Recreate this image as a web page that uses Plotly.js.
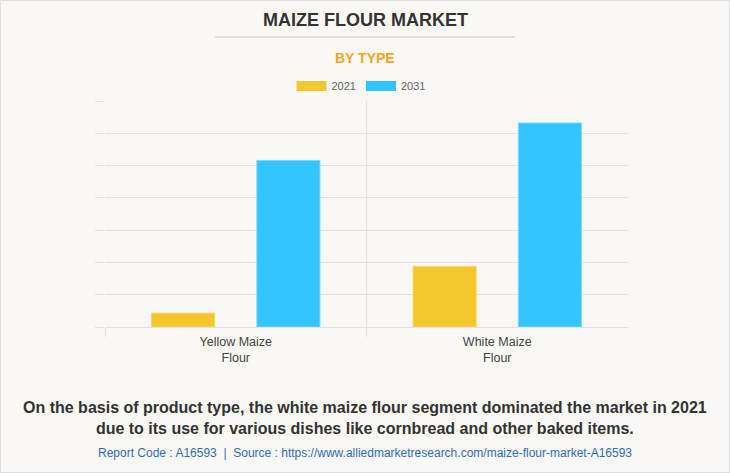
<!DOCTYPE html>
<html>
<head>
<meta charset="utf-8">
<script src="https://cdn.plot.ly/plotly-3.0.1.min.js"></script>
<style>
html,body{margin:0;padding:0;background:#F9F8F4;}
#chart{width:730px;height:473px;}
</style>
</head>
<body>
<div id="chart"></div>
<script>
// Data
const categories = ["Yellow Maize<br>Flour", "White Maize<br>Flour"];
const seriesNames = ["2021", "2031"];
const values2021 = [43, 188];
const values2031 = [516, 632];
const seriesColors = ["#F4C72F", "#33C5FF"];
const seriesBorder = ["#FAD96A", "#7FDBFF"];

const xIdx = categories.map((_, i) => i);
const allVals = [values2021, values2031];

const traces = [];
allVals.forEach((vals, s) => {
  traces.push({
    type: "bar", x: xIdx, y: vals, name: seriesNames[s],
    marker: {color: seriesColors[s], line: {color: seriesBorder[s], width: 1}},
    showlegend: false, hoverinfo: "skip"
  });
});
// legend entries (wide swatches)
allVals.forEach((vals, s) => {
  traces.push({
    type: "scatter", mode: "lines", x: [null], y: [null], name: seriesNames[s],
    line: {color: seriesColors[s], width: 12}, showlegend: true, hoverinfo: "skip"
  });
});
// helper trace for category divider axis
traces.push({type: "scatter", mode: "none", x: [null], y: [null], xaxis: "x2", showlegend: false, hoverinfo: "skip"});

const gridColor = "#E3E2DE";
const W = 523, H = 226, L = 105, T = 101;
const px = v => (v - L) / W;            // page x -> paper x
const py = v => (T + H - v) / H;        // page y -> paper y
const layout = {
  width: 730, height: 473,
  paper_bgcolor: "#F9F8F4", plot_bgcolor: "#F9F8F4",
  margin: {l: 105, r: 102, t: 101, b: 146},
  font: {family: "Liberation Sans, Arial, sans-serif", color: "#444"},
  barmode: "group", bargap: 0.195, bargroupgap: 0.4,
  showlegend: true,
  legend: {orientation: "h", x: px(361), xanchor: "center", xref: "paper", y: 1 - 86/473, yref: "container",
    yanchor: "middle", font: {size: 11, color: "#666"}, itemwidth: 30, tracegroupgap: 0,
    bgcolor: "rgba(0,0,0,0)"},
  xaxis: {
    range: [-0.5, 1.5], tickvals: xIdx, ticktext: categories,
    showgrid: false, zeroline: false, showline: true, linecolor: gridColor, linewidth: 1,
    ticks: "", ticklabelstandoff: 3, tickfont: {size: 12.5, color: "#444"}, fixedrange: true
  },
  xaxis2: {
    overlaying: "x", range: [-0.5, 1.5], tickvals: [-0.5, 0.5], ticktext: ["", ""],
    showgrid: true, gridcolor: gridColor, gridwidth: 1, ticks: "outside", ticklen: 9,
    tickcolor: gridColor, showline: false, zeroline: false, fixedrange: true, side: "bottom"
  },
  yaxis: {
    range: [0, 700], dtick: 100, showticklabels: false, showgrid: true, gridcolor: gridColor,
    ticks: "outside", ticklen: 9, tickcolor: gridColor, zeroline: false, showline: false, fixedrange: true
  },
  shapes: [
    {type: "rect", xref: "paper", yref: "paper", x0: px(0.5), x1: px(729.5), y0: py(472.5), y1: py(0.5),
      line: {color: "#DDDDDD", width: 1}, fillcolor: "rgba(0,0,0,0)", layer: "below"},
    {type: "line", xref: "paper", yref: "paper", x0: px(215), x1: px(515),
      y0: py(37), y1: py(37), line: {color: "#C8C8C8", width: 1}}
  ],
  annotations: [
    {text: "<b>MAIZE FLOUR MARKET</b>", xref: "paper", yref: "paper", x: px(365), y: py(20),
      showarrow: false, xanchor: "center", yanchor: "middle",
      font: {size: 18, color: "#333", family: "Liberation Sans, Arial, sans-serif"}},
    {text: "<b>BY TYPE</b>", xref: "paper", yref: "paper", x: px(365), y: py(58),
      showarrow: false, xanchor: "center", yanchor: "middle",
      font: {size: 14, color: "#F5A623", family: "Liberation Sans, Arial, sans-serif"}},
    {text: "<b>On the basis of product type, the white maize flour segment dominated the market in 2021<br>due to its use for various dishes like cornbread and other baked items.</b>",
      xref: "paper", yref: "paper", x: px(365), y: py(418),
      showarrow: false, xanchor: "center", yanchor: "middle",
      font: {size: 16, color: "#333", family: "Liberation Sans, Arial, sans-serif"}},
    {text: "Report Code : A16593  |  Source : https://www.alliedmarketresearch.com/maize-flour-market-A16593",
      xref: "paper", yref: "paper", x: px(365), y: py(453),
      showarrow: false, xanchor: "center", yanchor: "middle",
      font: {size: 12, color: "#2F6DB5", family: "Liberation Sans, Arial, sans-serif"}}
  ]
};

Plotly.newPlot("chart", traces, layout, {displayModeBar: false, staticPlot: true});
</script>
</body>
</html>
